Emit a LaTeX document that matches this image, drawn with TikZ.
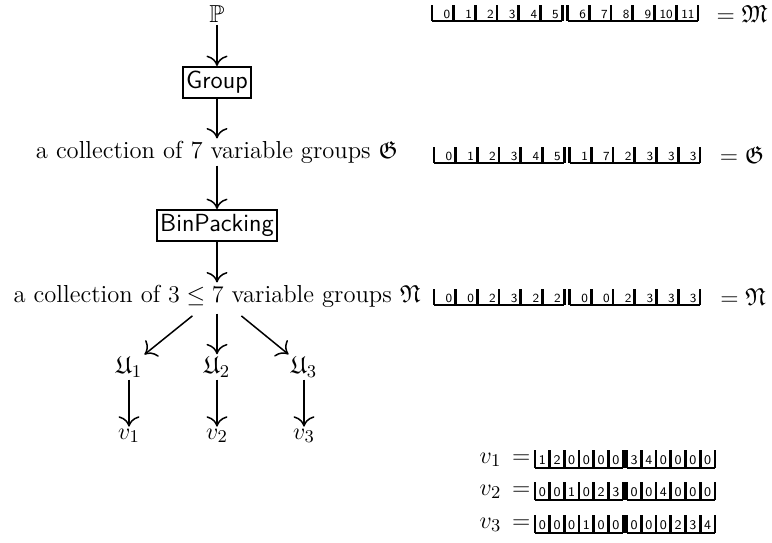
\documentclass[tikz,border=0pt]{standalone}
\usepackage{amssymb}
\usepackage{fontspec}
\usetikzlibrary{arrows.meta}

\tikzset{
  txt/.style={font=\fontsize{12.3}{14.6}\selectfont, inner sep=1pt},
  procbox/.style={draw, line width=1pt,
    font=\fontsize{12.4}{14.8}\selectfont\sffamily,
    inner xsep=1.6pt, inner ysep=0pt, minimum height=15.5pt},
  flow/.style={line width=0.75pt,
    -{Computer Modern Rightarrow[length=5.2pt,width=10.5pt,line width=0.75pt]}},
  idxdigit/.style={font=\fontsize{6.2}{7}\selectfont\sffamily, inner sep=0pt},
  vecdigit/.style={font=\fontsize{6.6}{7}\selectfont\sffamily, inner sep=0pt},
  barthin/.style={line width=0.6pt},
  barthick/.style={line width=1.35pt},
  barbottom/.style={line width=1.1pt},
}

% #1 left x, #2 top y, #3 cell width, #4 bar height, #5 gap between halves,
% #6 the twelve entries, #7 e (right aligned) or c (centred)
\newcommand\bitrow[7]{%
  \foreach \val [count=\k from 0] in {#6}{%
    \pgfmathsetmacro\xl{#1+\k*#3+(\k>5)*#5}%
    \pgfmathsetmacro\xr{\xl+#3}%
    \draw[barthick] (\xr,#2) -- (\xr,#2+#4);
    \ifx#7c
      \node[vecdigit] at ({(\xl+\xr)/2},#2+#4*0.55) {\val};
    \else
      \node[idxdigit,anchor=east] at (\xr-3,#2+#4*0.6) {\val};
    \fi
  }
  \draw[barthin] (#1,#2) -- (#1,#2+#4);
  \draw[barthick] (#1+6*#3+#5,#2) -- (#1+6*#3+#5,#2+#4);
  \draw[barbottom] (#1,#2+#4) -- (#1+6*#3,#2+#4);
  \draw[barbottom] (#1+6*#3+#5,#2+#4) -- (#1+12*#3+#5,#2+#4);
}

\begin{document}
\begin{tikzpicture}[x=0.5pt,y=-0.5pt]
\useasboundingbox (0,0) rectangle (772,542);

% left column: the processing chain
\node[txt] (P) at (217,14) {$\mathbb{P}$};
\node[procbox] (grp) at (217,82.5) {Group};
\node[txt] (col1) at (217,152) {a collection of 7 variable groups $\mathfrak{G}$};
\node[procbox] (bp) at (217,225.5) {BinPacking};
\node[txt] (col2) at (217,296) {a collection of $3\leq 7$ variable groups $\mathfrak{N}$};
\node[txt] (u1) at (129,367) {$\mathfrak{U}_1$};
\node[txt] (u2) at (217,367) {$\mathfrak{U}_2$};
\node[txt] (u3) at (304,367) {$\mathfrak{U}_3$};
\node[txt] (v1) at (129,436) {$v_1$};
\node[txt] (v2) at (217,436) {$v_2$};
\node[txt] (v3) at (304,436) {$v_3$};

\draw[flow] (P) -- (grp);
\draw[flow] (grp) -- (col1);
\draw[flow] (col1) -- (bp);
\draw[flow] (bp) -- (col2);
\draw[flow, shorten <=5pt] (col2) -- (u1);
\draw[flow, shorten <=2pt] (col2.south -| u2) -- (u2);
\draw[flow, shorten <=5pt] (col2) -- (u3);
\draw[flow] (u1) -- (v1);
\draw[flow] (u2) -- (v2);
\draw[flow] (u3) -- (v3);

% right column: index layouts
\bitrow{432}{5}{21.7}{16}{5.5}{0,1,2,3,4,5,6,7,8,9,10,11}{e}
\node[txt] (eqM) at (742,14) {$=\mathfrak{M}$};
\bitrow{434}{147}{21.7}{16}{5.5}{0,1,2,3,4,5,1,7,2,3,3,3}{e}
\node[txt] (eqG) at (742,155) {$=\mathfrak{G}$};
\bitrow{434}{289}{21.7}{16}{5.5}{0,0,2,3,2,2,0,0,2,3,3,3}{e}
\node[txt] (eqN) at (743,297) {$=\mathfrak{N}$};

% the three vectors
\node[txt] (lv1) at (505,460) {$v_1\,=$};
\bitrow{535}{450}{14.7}{18}{3.5}{1,2,0,0,0,0,3,4,0,0,0,0}{c}
\node[txt] (lv2) at (505,492) {$v_2\,=$};
\bitrow{535}{482}{14.7}{18}{3.5}{0,0,1,0,2,3,0,0,4,0,0,0}{c}
\node[txt] (lv3) at (505,525) {$v_3\,=$};
\bitrow{535}{515}{14.7}{18}{3.5}{0,0,0,1,0,0,0,0,0,2,3,4}{c}
\end{tikzpicture}
\end{document}
